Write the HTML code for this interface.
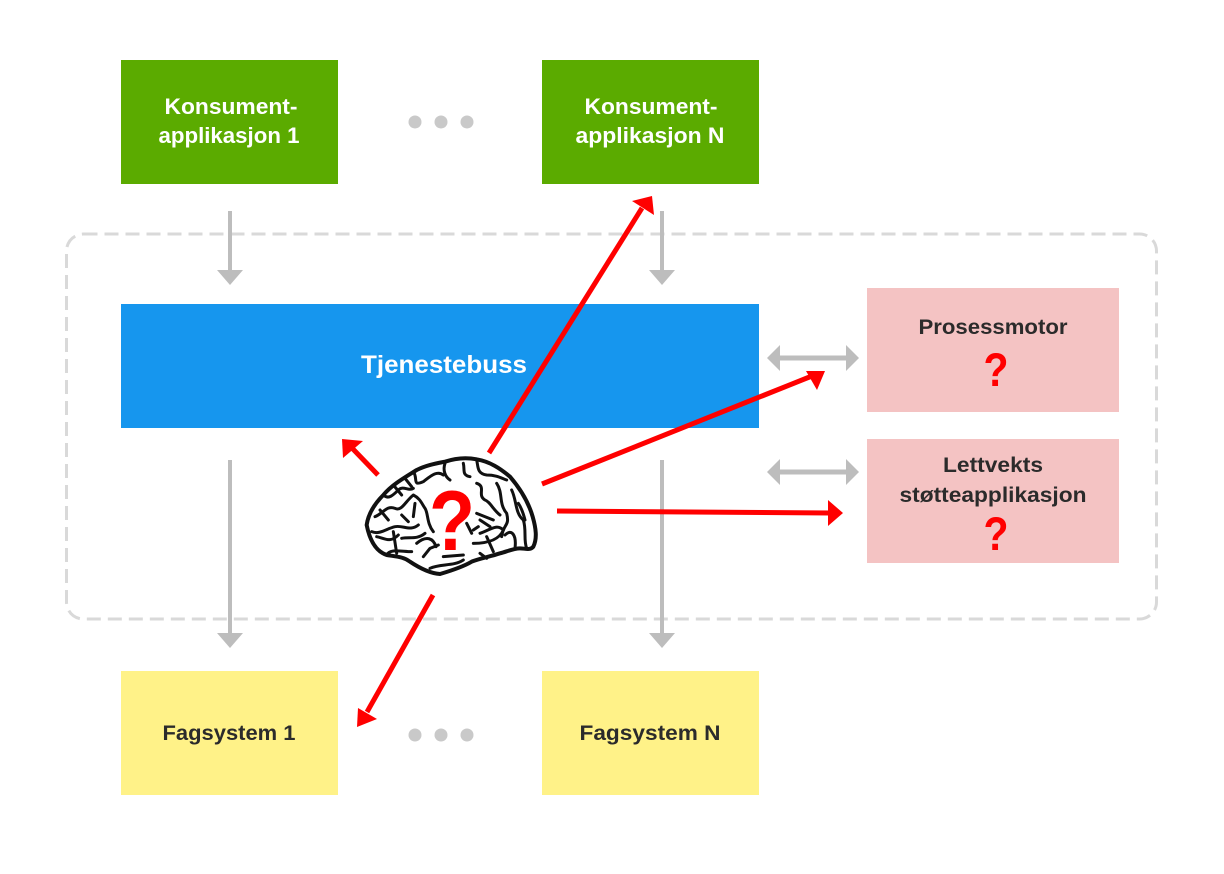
<!DOCTYPE html>
<html><head><meta charset="utf-8"><style>
html,body{margin:0;padding:0;background:#fff}
svg{display:block}
text{font-family:"Liberation Sans",sans-serif;font-weight:bold;text-anchor:middle}
</style></head><body>
<svg width="1224" height="874" viewBox="0 0 1224 874" xmlns="http://www.w3.org/2000/svg">
<rect width="1224" height="874" fill="#fff"/>
<rect x="66.500" y="234" width="1090" height="385" rx="17" fill="none" stroke="#d9d9d9" stroke-width="3" stroke-dasharray="14 7"/>

<rect x="121" y="60" width="217" height="124" fill="#5bab00"/>
<rect x="542" y="60" width="217" height="124" fill="#5bab00"/>
<rect x="121" y="304" width="638" height="124" fill="#1696ee"/>
<rect x="867" y="288" width="252" height="124" fill="#f4c3c3"/>
<rect x="867" y="439" width="252" height="124" fill="#f4c3c3"/>
<rect x="121" y="671" width="217" height="124" fill="#fff288"/>
<rect x="542" y="671" width="217" height="124" fill="#fff288"/>

<g fill="#fff" font-size="22">
<text x="231" y="114" textLength="133" lengthAdjust="spacingAndGlyphs">Konsument-</text>
<text x="229" y="143" textLength="141" lengthAdjust="spacingAndGlyphs">applikasjon 1</text>
<text x="651" y="114" textLength="133" lengthAdjust="spacingAndGlyphs">Konsument-</text>
<text x="650" y="143" textLength="149" lengthAdjust="spacingAndGlyphs">applikasjon N</text>
<text x="444" y="373" font-size="25" textLength="166" lengthAdjust="spacingAndGlyphs">Tjenestebuss</text>
</g>
<g fill="#2b2b2b" font-size="21">
<text x="993" y="334" textLength="149" lengthAdjust="spacingAndGlyphs">Prosessmotor</text>
<text x="993" y="472" textLength="100" lengthAdjust="spacingAndGlyphs">Lettvekts</text>
<text x="993" y="502" textLength="187" lengthAdjust="spacingAndGlyphs">støtteapplikasjon</text>
<text x="229" y="740" textLength="133" lengthAdjust="spacingAndGlyphs">Fagsystem 1</text>
<text x="650" y="740" textLength="141" lengthAdjust="spacingAndGlyphs">Fagsystem N</text>
</g>
<g fill="#ff0000" font-size="47">
<text x="996" y="386" textLength="25" lengthAdjust="spacingAndGlyphs">?</text>
<text x="996" y="550" textLength="25" lengthAdjust="spacingAndGlyphs">?</text>
</g>

<g fill="#c9c9c9">
<circle cx="415" cy="122" r="6.500"/><circle cx="441" cy="122" r="6.500"/><circle cx="467" cy="122" r="6.500"/>
<circle cx="415" cy="735" r="6.500"/><circle cx="441" cy="735" r="6.500"/><circle cx="467" cy="735" r="6.500"/>
</g>

<g fill="#bdbdbd">
<rect x="228" y="211" width="4" height="60"/><path d="M217 270H243L230 285Z"/>
<rect x="660" y="211" width="4" height="60"/><path d="M649 270H675L662 285Z"/>
<rect x="228" y="460" width="4" height="174"/><path d="M217 633H243L230 648Z"/>
<rect x="660" y="460" width="4" height="174"/><path d="M649 633H675L662 648Z"/>
<path d="M767 358L780 345V355.500H846V345L859 358L846 371V360.500H780V371Z"/>
<path d="M767 472L780 459V469.500H846V459L859 472L846 485V474.500H780V485Z"/>
</g>

<g stroke="#ff0000" stroke-width="5" fill="none">
<line x1="489" y1="453" x2="642" y2="208"/>
<line x1="542" y1="484" x2="812" y2="376"/>
<line x1="557" y1="511" x2="830" y2="513"/>
<line x1="378" y1="475" x2="352" y2="448"/>
<line x1="433" y1="595" x2="367" y2="712"/>
</g>
<g fill="#ff0000">
<path d="M652 196L654 215L632 201Z"/>
<path d="M825 371L806 371L817 390Z"/>
<path d="M843 513L828 500V526Z"/>
<path d="M342 439L363 441L343 458Z"/>
<path d="M357 727L358 708L377 719Z"/>
</g>

<g transform="translate(330 420) scale(0.33333)" fill="none" stroke="#111" stroke-linejoin="round" stroke-linecap="round">
<path fill="#fff" stroke-width="12" d="M110 315C115 280 135 250 160 225C185 195 220 175 260 150C290 135 320 130 345 125C375 115 410 112 440 118C480 125 510 145 540 170C570 205 595 245 608 290C618 325 622 355 610 380C600 392 585 385 570 385C550 385 530 395 510 400C480 410 450 415 425 425C400 440 370 450 330 462C300 460 270 445 240 425C220 410 200 410 170 405C140 395 120 365 110 315Z"/>
<g stroke-width="9">
<path d="M345 130C338 150 345 170 360 180"/>
<path d="M160 225C175 240 190 225 205 210C220 195 235 215 250 205"/>
<path d="M190 195L215 225M225 175L245 200"/>
<path d="M250 155C265 175 245 200 280 185C300 170 320 150 340 165"/>
<path d="M135 290C160 280 170 255 195 265C215 275 225 245 250 225C270 235 275 250 285 265C295 280 290 310 310 335"/>
<path d="M125 335C150 345 170 325 195 320C220 315 240 335 265 315"/>
<path d="M150 270L175 300M215 285L235 305M255 250L250 290"/>
<path d="M140 350C165 355 180 370 205 345"/>
<path d="M190 335L200 400"/>
<path d="M170 405C180 385 215 395 245 395"/>
<path d="M215 355C240 350 260 360 285 340"/>
<path d="M260 370C290 345 310 355 318 380"/>
<path d="M280 410L300 385L325 375"/>
<path d="M300 445C330 430 370 440 400 420"/>
<path d="M340 410L400 405"/>
<path d="M440 120C445 140 440 160 470 165C500 165 515 175 530 180"/>
<path d="M400 130C405 150 395 165 420 170"/>
<path d="M440 190C470 200 440 225 465 240C480 245 490 270 510 285"/>
<path d="M500 190C520 220 505 250 530 280C540 320 520 310 515 350"/>
<path d="M545 210C560 240 555 280 580 300C590 330 580 360 590 385"/>
<path d="M565 250C575 265 580 280 585 300"/>
<path d="M440 280L490 300M450 300L480 320"/>
<path d="M450 340C480 330 500 310 520 330C510 355 480 370 430 370"/>
<path d="M525 345C545 325 560 345 555 385"/>
<path d="M410 310L425 340M445 320L430 330"/>
<path d="M450 400L470 415M470 350L490 395"/>
</g>
</g>
<text x="452" y="550" font-size="85" fill="#ff0000" textLength="46" lengthAdjust="spacingAndGlyphs">?</text>
</svg>
</body></html>
